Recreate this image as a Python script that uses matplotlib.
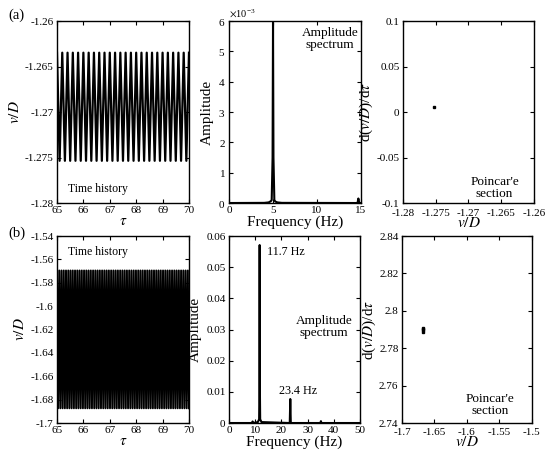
import numpy as np
import matplotlib.pyplot as plt

plt.rcParams['font.family'] = ['Liberation Serif', 'DejaVu Serif']
plt.rcParams['mathtext.fontset'] = 'stix'
plt.rcParams['xtick.direction'] = 'in'
plt.rcParams['ytick.direction'] = 'in'
plt.rcParams['xtick.top'] = True
plt.rcParams['ytick.right'] = True

# time history: extremes, frequency
tau_range = [65, 70]
upper_a, lower_a, freq_a = -1.26348, -1.27536, 5.0
upper_b, lower_b, freq_b = -1.5695, -1.6874, 11.7

# amplitude spectrum (a), amplitudes in units of 1e-3
f_a = [0, 4.0, 4.5, 4.75, 4.85, 4.95, 5.0, 5.05, 5.15, 5.25, 5.5, 6.0, 14.6, 14.7, 14.8, 15]
amp_a = [0.0, 0.005, 0.02, 0.06, 0.1, 1.5, 5.95, 1.5, 0.1, 0.05, 0.02, 0.005, 0.0, 0.15, 0.0, 0.0]
# amplitude spectrum (b)
f_b = [0, 8.8, 9.0, 9.2, 11.0, 11.5, 11.6, 11.7, 11.8, 11.9, 12.4, 23.2, 23.4, 23.6, 34.9, 35.1, 35.3, 50]
amp_b = [0.0, 0.0, 0.0005, 0.0, 0.0003, 0.0012, 0.01, 0.0571, 0.01, 0.0012, 0.0003, 0.0, 0.0077, 0.0, 0.0, 0.0006, 0.0, 0.0]

# Poincare points
pc_a_x, pc_a_y = [-1.2753], [0.0052]
pc_b_x = [-1.668, -1.668, -1.668, -1.668]
pc_b_y = [2.7888, 2.7895, 2.7902, 2.7910]

ticks_th_a = [-1.28, -1.275, -1.27, -1.265, -1.26]
labels_th_a = ['-1.28', '-1.275', '-1.27', '-1.265', '-1.26']
ticks_th_b = [-1.7, -1.68, -1.66, -1.64, -1.62, -1.6, -1.58, -1.56, -1.54]
labels_th_b = ['-1.7', '-1.68', '-1.66', '-1.64', '-1.62', '-1.6', '-1.58', '-1.56', '-1.54']
ticks_pc_a_y = [-0.1, -0.05, 0, 0.05, 0.1]
labels_pc_a_y = ['-0.1', '-0.05', '0', '0.05', '0.1']
ticks_pc_b_x = [-1.7, -1.65, -1.6, -1.55, -1.5]
labels_pc_b_x = ['-1.7', '-1.65', '-1.6', '-1.55', '-1.5']
ticks_pc_b_y = [2.74, 2.76, 2.78, 2.8, 2.82, 2.84]
labels_pc_b_y = ['2.74', '2.76', '2.78', '2.8', '2.82', '2.84']


def zigzag(upper, lower, freq):
    t = np.arange(tau_range[0], tau_range[1] + 1e-9, 0.5 / freq)
    v = np.where(np.arange(len(t)) % 2 == 0, upper, lower)
    return t, v


fs = 9.5
lab = 11

fig = plt.figure(figsize=(5.5, 4.55), dpi=100)

# ---- row (a)
ax1 = fig.add_axes([0.1036, 0.5538, 0.24, 0.40])
t, v = zigzag(upper_a, lower_a, freq_a)
ax1.plot(t, v, color='black', lw=1.6)
ax1.set_xlim(65, 70)
ax1.set_ylim(-1.28, -1.26)
ax1.set_yticks(ticks_th_a)
ax1.set_yticklabels(labels_th_a)
ax1.set_xticks([65, 66, 67, 68, 69, 70])
ax1.set_xlabel(r'$\tau$', fontsize=lab, labelpad=0)
ax1.set_ylabel(r'$v/D$', fontsize=lab, labelpad=2)
ax1.text(65.4, -1.2785, 'Time history', fontsize=8.5, va='center')

ax2 = fig.add_axes([0.4164, 0.5538, 0.24, 0.40])
ax2.plot(f_a, np.array(amp_a) * 1e-3, color='black', lw=1.5)
ax2.set_xlim(0, 15)
ax2.set_ylim(0, 6e-3)
ax2.set_xticks([0, 5, 10, 15])
ax2.ticklabel_format(axis='y', style='sci', scilimits=(0, 0), useMathText=True)
ax2.yaxis.get_offset_text().set_fontsize(7.5)
ax2.set_xlabel('Frequency (Hz)', fontsize=lab, labelpad=0)
ax2.set_ylabel('Amplitude', fontsize=lab, labelpad=3)
ax2.text(0.765, 0.965, 'Amplitude\nspectrum', transform=ax2.transAxes, fontsize=fs,
         ha='center', va='top', linespacing=1.0)

ax3 = fig.add_axes([0.7327, 0.5538, 0.238, 0.40])
ax3.plot(pc_a_x, pc_a_y, 's', color='black', ms=2)
ax3.set_xlim(-1.28, -1.26)
ax3.set_ylim(-0.1, 0.1)
ax3.set_xticks(ticks_th_a)
ax3.set_xticklabels(labels_th_a)
ax3.set_yticks(ticks_pc_a_y)
ax3.set_yticklabels(labels_pc_a_y)
ax3.set_xlabel(r'$v/D$', fontsize=lab, labelpad=-1)
ax3.set_ylabel(r'd($v/D$)/d$\tau$', fontsize=lab, labelpad=1)
ax3.text(0.70, 0.085, "Poincar'e\nsection", transform=ax3.transAxes, fontsize=fs,
         ha='center', va='center', linespacing=1.0)

# ---- row (b)
ax4 = fig.add_axes([0.1036, 0.0703, 0.24, 0.411])
t, v = zigzag(upper_b, lower_b, freq_b)
ax4.plot(t, v, color='black', lw=1.4)
ax4.set_xlim(65, 70)
ax4.set_ylim(-1.7, -1.54)
ax4.set_yticks(ticks_th_b)
ax4.set_yticklabels(labels_th_b)
ax4.set_xticks([65, 66, 67, 68, 69, 70])
ax4.set_xlabel(r'$\tau$', fontsize=lab, labelpad=0)
ax4.set_ylabel(r'$v/D$', fontsize=lab, labelpad=2)
ax4.text(65.4, -1.5537, 'Time history', fontsize=8.5, va='center')

ax5 = fig.add_axes([0.4164, 0.0703, 0.238, 0.411])
ax5.plot(f_b, amp_b, color='black', lw=1.5)
ax5.set_xlim(0, 50)
ax5.set_ylim(0, 0.06)
ax5.set_xticks([0, 10, 20, 30, 40, 50])
ax5.set_yticks([0, 0.01, 0.02, 0.03, 0.04, 0.05, 0.06])
ax5.set_yticklabels(['0', '0.01', '0.02', '0.03', '0.04', '0.05', '0.06'])
ax5.set_xlabel('Frequency (Hz)', fontsize=lab, labelpad=0)
ax5.set_ylabel('Amplitude', fontsize=lab, labelpad=3)
ax5.text(14.5, 0.055, '11.7 Hz', fontsize=8.7, va='center')
ax5.text(26.3, 0.0103, '23.4 Hz', fontsize=8.7, ha='center', va='center')
ax5.text(0.727, 0.513, 'Amplitude\nspectrum', transform=ax5.transAxes, fontsize=fs,
         ha='center', va='center', linespacing=1.0)

ax6 = fig.add_axes([0.7309, 0.0703, 0.236, 0.411])
ax6.plot(pc_b_x, pc_b_y, 's', color='black', ms=1.8)
ax6.set_xlim(-1.7, -1.5)
ax6.set_ylim(2.74, 2.84)
ax6.set_xticks(ticks_pc_b_x)
ax6.set_xticklabels(labels_pc_b_x)
ax6.set_yticks(ticks_pc_b_y)
ax6.set_yticklabels(labels_pc_b_y)
ax6.set_xlabel(r'$v/D$', fontsize=lab, labelpad=-1)
ax6.set_ylabel(r'd($v/D$)/d$\tau$', fontsize=lab, labelpad=1)
ax6.text(0.68, 0.096, "Poincar'e\nsection", transform=ax6.transAxes, fontsize=fs,
         ha='center', va='center', linespacing=1.0)

for ax in [ax1, ax2, ax3, ax4, ax5, ax6]:
    ax.tick_params(labelsize=8, length=3, width=0.8, pad=2.5)
    for s in ax.spines.values():
        s.set_linewidth(1.0)
ax3.tick_params(axis='x', pad=4)
ax6.tick_params(axis='x', pad=3.5)

fig.text(0.015, 0.967, '(a)', fontsize=10.5, va='center')
fig.text(0.015, 0.488, '(b)', fontsize=10.5, va='center')

fig.savefig('out.png', dpi=100)
